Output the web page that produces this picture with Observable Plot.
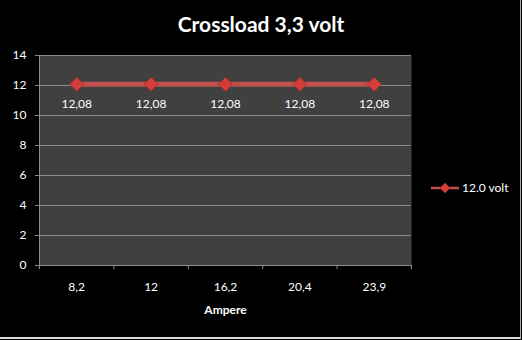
<!DOCTYPE html>
<html><head><meta charset="utf-8">
<script src="https://cdn.jsdelivr.net/npm/d3@7"></script>
<script src="https://cdn.jsdelivr.net/npm/@observablehq/plot@0.6"></script>
<style>
html,body{margin:0;padding:0;background:#000;}
#wrap{position:relative;width:522px;height:340px;overflow:hidden;background:#000;font-family:Lato,"Open Sans",sans-serif;}
#title{position:absolute;left:0;width:522px;top:11px;text-align:center;color:#fff;font-weight:bold;font-size:21px;}
#legend{position:absolute;left:431px;top:180px;color:#fff;font-size:12px;display:flex;align-items:center;}
#border{position:absolute;left:0;top:0;width:520px;height:337px;border-right:1px solid #aaa;border-bottom:2px solid #ddd;pointer-events:none;}
</style></head>
<body><div id="wrap"><div id="title">Crossload 3,3 volt</div><div id="legend"></div><div id="border"></div></div>
<script>
const categories = ["8,2", "12", "16,2", "20,4", "23,9"];
const seriesName = "12.0 volt";
const values = [12.08, 12.08, 12.08, 12.08, 12.08];
const yTicks = [0, 2, 4, 6, 8, 10, 12, 14];

const data = categories.map((c, i) => ({i: i + 0.5, cat: c, v: values[i]}));
const red = "#c0504d";
const boundaries = d3.range(categories.length + 1);

const chart = Plot.plot({
  width: 522, height: 340,
  marginTop: 55, marginLeft: 39, marginRight: 111, marginBottom: 75,
  style: {background: "#000", color: "#fff", fontFamily: "Lato, 'Open Sans', sans-serif", fontSize: "12px"},
  x: {domain: [0, categories.length]},
  y: {domain: [0, 14]},
  marks: [
    Plot.frame({fill: "#404040", stroke: null}),
    Plot.ruleY(yTicks.filter(d => d > 0), {stroke: "#8c8c8c", strokeWidth: 1}),
    Plot.ruleY([0], {stroke: "#8c8c8c"}),
    Plot.ruleX([0], {stroke: "#8c8c8c"}),
    Plot.axisY({ticks: yTicks, tickSize: 4, tickPadding: 9, stroke: "#8c8c8c", fill: "#fff", label: null, tickFormat: d => String(d)}),
    Plot.axisX({ticks: boundaries, tickSize: 4, tickFormat: () => "", stroke: "#8c8c8c", label: null}),
    Plot.axisX({ticks: categories.map((c, i) => i + 0.5), tickSize: 0, tickPadding: 17, tickFormat: d => categories[Math.round(d - 0.5)], fill: "#fff", label: null}),
    Plot.text(["Ampere"], {frameAnchor: "bottom", dy: 48, text: d => d, fill: "#fff", fontWeight: "bold", fontSize: 12}),
    Plot.line(data, {x: "i", y: "v", stroke: red, strokeWidth: 5}),
    Plot.dot(data, {x: "i", y: "v", symbol: "diamond2", r: 6.3, fill: "#d53d3a", stroke: "#a02a28", strokeWidth: 0.8}),
    Plot.text(data, {x: "i", y: "v", text: d => d3.format(".2f")(d.v).replace(".", ","), dy: 20, fill: "#fff"})
  ]
});
document.getElementById("wrap").prepend(chart);
chart.style.position = "absolute"; chart.style.left = "0"; chart.style.top = "0";

const leg = document.getElementById("legend");
leg.innerHTML = `<svg width="30" height="14"><line x1="0" x2="28" y1="7" y2="7" stroke="${red}" stroke-width="2.5"/><path d="M14,2L19,7L14,12L9,7Z" fill="#d53d3a" stroke="#a02a28" stroke-width="0.6"/></svg><span style="margin-left:1px">${seriesName}</span>`;
</script></body></html>
